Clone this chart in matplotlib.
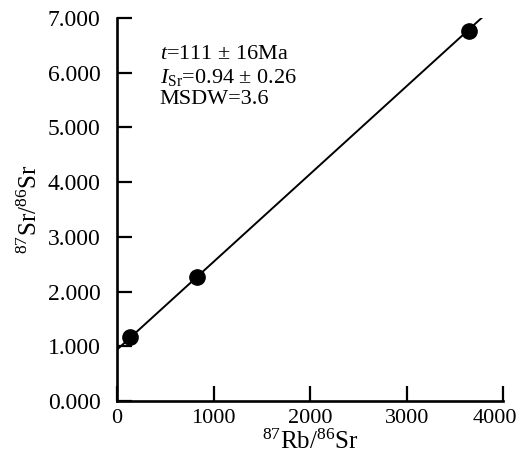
import matplotlib
matplotlib.use("Agg")
import matplotlib.pyplot as plt
import matplotlib.transforms as mtransforms
import numpy as np

# data
rb_sr = [135, 830, 3645]          # 87Rb/86Sr
sr_sr = [1.17, 2.27, 6.76]        # 87Sr/86Sr
isochron_intercept = 0.94
isochron_slope = 0.001605
line_x = [0, 3840]
x_ticks = [0, 1000, 2000, 3000, 4000]
y_ticks = [0, 1, 2, 3, 4, 5, 6, 7]

plt.rcParams['font.family'] = ['Liberation Serif', 'DejaVu Serif']
plt.rcParams['mathtext.fontset'] = 'custom'
plt.rcParams['mathtext.rm'] = 'Liberation Serif'
plt.rcParams['mathtext.it'] = 'Liberation Serif:italic'

fig = plt.figure(figsize=(5.23, 4.63), dpi=100)
ax = fig.add_axes([0.224, 0.134, 0.738, 0.827])

lx = np.array(line_x, dtype=float)
ax.plot(lx, isochron_intercept + isochron_slope * lx, color='black', lw=1.4, zorder=2)
ax.plot(rb_sr, sr_sr, 'o', color='black', markersize=11, zorder=3)

ax.set_xlim(0, 4000)
ax.set_ylim(0, 7)
ax.set_xticks(x_ticks)
ax.set_xticklabels([str(v) for v in x_ticks])
ax.set_yticks(y_ticks)
ax.set_yticklabels([f"{v:.3f}" for v in y_ticks])
ax.spines[['top', 'right']].set_visible(False)
for s in ['left', 'bottom']:
    ax.spines[s].set_linewidth(1.9)
ax.tick_params(direction='in', length=11, width=1.6, labelsize=17)
ax.tick_params(axis='x', labelsize=16, pad=6)
ax.tick_params(axis='y', pad=12)

# nudge the last x tick label left so it stays inside the figure
last = ax.get_xticklabels()[-1]
last.set_transform(last.get_transform() + mtransforms.ScaledTranslation(-8 / 100, 0, fig.dpi_scale_trans))

ax.set_xlabel(r'$^{87}$Rb/$^{86}$Sr', fontsize=18, labelpad=1)
ax.set_ylabel(r'$^{87}$Sr/$^{86}$Sr', fontsize=18, labelpad=4)

tx = 0.11
ax.text(tx, 0.905, r'$\mathit{t}$=111 $\pm$ 16Ma', transform=ax.transAxes, fontsize=16, va='center')
ax.text(tx, 0.845, r'$\mathit{I}_{\rm Sr}$=0.94 $\pm$ 0.26', transform=ax.transAxes, fontsize=16, va='center')
ax.text(tx, 0.788, 'MSDW=3.6', transform=ax.transAxes, fontsize=16, va='center')

fig.savefig('out.png', dpi=100)
